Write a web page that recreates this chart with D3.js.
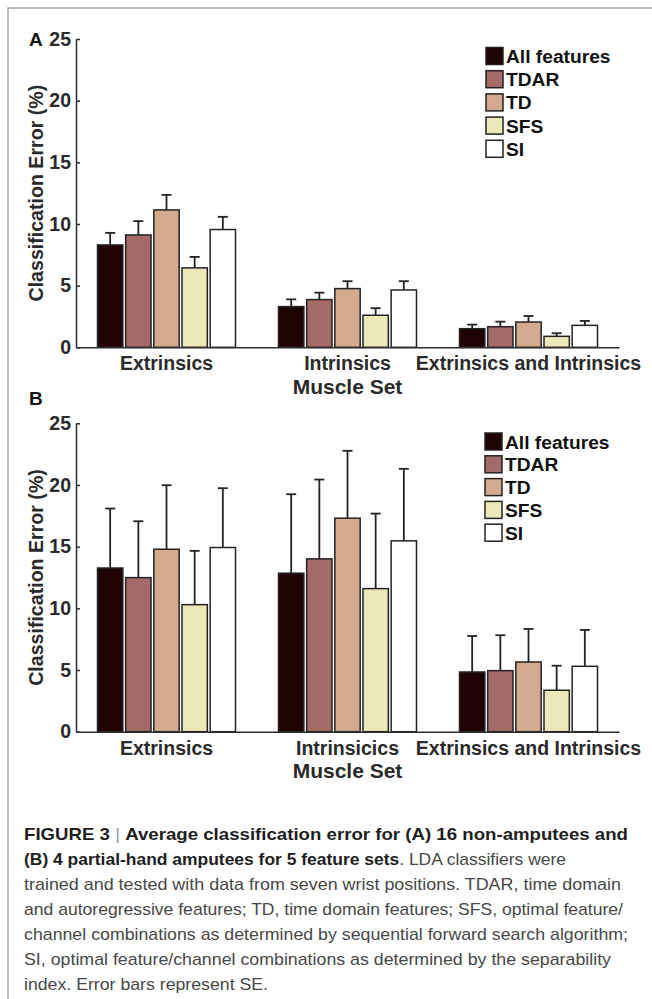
<!DOCTYPE html>
<html>
<head>
<meta charset="utf-8">
<script src="https://cdn.jsdelivr.net/npm/d3@7"></script>
<style>
  html, body { margin: 0; padding: 0; background: #fff; }
  svg { display: block; font-family: "Liberation Sans", Arial, Helvetica, sans-serif; }
</style>
</head>
<body>
<svg id="fig" width="652" height="999"></svg>
<script>
// Feature sets and their fill colours
const featureSets = ["All features", "TDAR", "TD", "SFS", "SI"];
const featureColors = ["#1f0204", "#a46a68", "#d4aa8e", "#ebe9b9", "#ffffff"];

// Muscle-set categories (panel B keeps its own spelling)
const groupsA = ["Extrinsics", "Intrinsics", "Extrinsics and Intrinsics"];
const groupsB = ["Extrinsics", "Intrinsicics", "Extrinsics and Intrinsics"];

const yTicks = [0, 5, 10, 15, 20, 25];

// Panel A: 16 non-amputees, mean classification error (%) and SE, one row per muscle set
const meanA = [
  [8.30, 9.11, 11.14, 6.44, 9.55],
  [3.30, 3.87, 4.76, 2.60, 4.65],
  [1.51, 1.67, 2.05, 0.89, 1.78]
];
const seA = [
  [0.98, 1.12, 1.22, 0.89, 1.03],
  [0.59, 0.56, 0.60, 0.57, 0.71],
  [0.33, 0.41, 0.49, 0.25, 0.36]
];

// Panel B: 4 partial-hand amputees
const meanB = [
  [13.27, 12.49, 14.79, 10.30, 14.93],
  [12.85, 14.01, 17.31, 11.60, 15.47],
  [4.84, 4.95, 5.65, 3.36, 5.30]
];
const seB = [
  [4.82, 4.57, 5.19, 4.36, 4.81],
  [6.40, 6.43, 5.46, 6.08, 5.84],
  [2.92, 2.87, 2.68, 1.99, 2.95]
];

// Caption lines: [text, style] segments
const captionLines = [
  [["FIGURE 3", "b"], [" | ", "sep"], ["Average classification error for (A) 16 non-amputees and", "b"]],
  [["(B) 4 partial-hand amputees for 5 feature sets", "b"], [". LDA classifiers were", "n"]],
  [["trained and tested with data from seven wrist positions. TDAR, time domain", "n"]],
  [["and autoregressive features; TD, time domain features; SFS, optimal feature/", "n"]],
  [["channel combinations as determined by sequential forward search algorithm;", "n"]],
  [["SI, optimal feature/channel combinations as determined by the separability", "n"]],
  [["index. Error bars represent SE.", "n"]]
];
const captionWidths = [604, 542, 597, 599, 604, 587, 244];

const svg = d3.select("#fig");

// outer frame (top and left edges)
svg.append("path")
  .attr("d", "M8,999 V8 H652")
  .attr("fill", "none")
  .attr("stroke", "#a8a8a8")
  .attr("stroke-width", 1.5);

const axisColor = "#2e2e2e";
const xLeft = 76, xRight = 619;

function drawPanel(cfg) {
  const g = svg.append("g");
  const y = d3.scaleLinear().domain([0, 25]).range([cfg.bottom, cfg.top]);
  const x0 = d3.scaleBand().domain(cfg.groups).range([xLeft, xRight]);
  const x1 = d3.scaleBand().domain(featureSets).range([-69, 69]).paddingInner(0.1);
  const color = d3.scaleOrdinal().domain(featureSets).range(featureColors);

  // bars
  const flat = cfg.groups.flatMap((grp, gi) => featureSets.map((fs, fi) => ({
    grp, fs, mean: cfg.mean[gi][fi], se: cfg.se[gi][fi]
  })));

  g.append("g").selectAll("rect").data(flat).join("rect")
    .attr("x", d => x0(d.grp) + x0.bandwidth() / 2 + x1(d.fs))
    .attr("y", d => y(d.mean))
    .attr("width", x1.bandwidth())
    .attr("height", d => y(0) - y(d.mean))
    .attr("fill", d => color(d.fs))
    .attr("stroke", "#232323")
    .attr("stroke-width", 1.5);

  // upper error bars (mean + SE)
  const eb = g.append("g").attr("stroke", "#232323").attr("stroke-width", 1.8).attr("fill", "none");
  const cx = d => x0(d.grp) + x0.bandwidth() / 2 + x1(d.fs) + x1.bandwidth() / 2;
  eb.selectAll("line.v").data(flat).join("line").attr("class", "v")
    .attr("x1", cx).attr("x2", cx)
    .attr("y1", d => y(d.mean)).attr("y2", d => y(d.mean + d.se));
  eb.selectAll("line.c").data(flat).join("line").attr("class", "c")
    .attr("x1", d => cx(d) - 5).attr("x2", d => cx(d) + 5)
    .attr("y1", d => y(d.mean + d.se)).attr("y2", d => y(d.mean + d.se));

  // y axis
  const yAxis = g.append("g")
    .attr("transform", `translate(${xLeft},0)`)
    .call(d3.axisLeft(y).tickValues(yTicks).tickSizeInner(-4).tickSizeOuter(0).tickPadding(5));
  yAxis.select(".domain").attr("stroke", axisColor).attr("stroke-width", 1.5);
  yAxis.selectAll(".tick line").attr("stroke", axisColor).attr("stroke-width", 1.5);
  yAxis.selectAll(".tick text")
    .attr("fill", "#2a2a2a")
    .style("font-size", "19.5px")
    .style("font-weight", "bold")
    .style("font-family", "'Liberation Sans', Arial, sans-serif");

  // x axis with category labels
  const xAxis = g.append("g")
    .attr("transform", `translate(0,${cfg.bottom})`)
    .call(d3.axisBottom(x0).tickSize(0).tickPadding(9).tickSizeOuter(0));
  xAxis.select(".domain").attr("stroke", axisColor).attr("stroke-width", 1.5);
  xAxis.selectAll(".tick text")
    .attr("fill", "#2a2a2a")
    .style("font-size", "19.5px")
    .style("font-weight", "bold")
    .style("font-family", "'Liberation Sans', Arial, sans-serif");

  // x axis title
  g.append("text")
    .attr("x", x0(cfg.groups[1]) + x0.bandwidth() / 2)
    .attr("y", cfg.bottom + 46.5)
    .attr("text-anchor", "middle")
    .attr("fill", "#2a2a2a")
    .style("font-size", "21px")
    .style("font-weight", "bold")
    .text("Muscle Set");

  // y axis title
  g.append("text")
    .attr("transform", `translate(43,${(cfg.top + cfg.bottom) / 2}) rotate(-90)`)
    .attr("text-anchor", "middle")
    .attr("fill", "#2a2a2a")
    .style("font-size", "19.6px")
    .style("font-weight", "bold")
    .text("Classification Error (%)");

  // panel letter
  g.append("text")
    .attr("x", 29)
    .attr("y", cfg.letterY)
    .attr("fill", "#111")
    .style("font-size", "19px")
    .style("font-weight", "bold")
    .text(cfg.letter);

  // legend
  const lg = g.append("g").attr("transform", `translate(${cfg.legendX},${cfg.legendY})`);
  const item = lg.selectAll("g").data(featureSets).join("g")
    .attr("transform", (d, i) => `translate(0,${i * cfg.legendStep})`);
  item.append("rect")
    .attr("width", 17).attr("height", 17)
    .attr("fill", d => color(d))
    .attr("stroke", "#232323").attr("stroke-width", 1.5);
  item.append("text")
    .attr("x", 20).attr("y", 15.5)
    .attr("fill", "#111")
    .style("font-size", "19.2px")
    .style("font-weight", "bold")
    .text(d => d);
}

drawPanel({
  groups: groupsA, mean: meanA, se: seA,
  top: 39, bottom: 347.3, letter: "A", letterY: 46,
  legendX: 486, legendY: 47.5, legendStep: 23.2
});
drawPanel({
  groups: groupsB, mean: meanB, se: seB,
  top: 423.3, bottom: 731.7, letter: "B", letterY: 405,
  legendX: 485, legendY: 433, legendStep: 22.8
});

// caption
const cap = svg.append("g");
captionLines.forEach((segs, i) => {
  const t = cap.append("text")
    .attr("x", 24)
    .attr("y", 840 + i * 25)
    .style("font-size", "17px")
    .attr("textLength", captionWidths[i])
    .attr("lengthAdjust", "spacingAndGlyphs");
  segs.forEach(([txt, kind]) => {
    t.append("tspan")
      .attr("fill", kind === "b" ? "#1e1e1e" : kind === "sep" ? "#9a9a9a" : "#474747")
      .style("font-weight", kind === "b" ? "bold" : "normal")
      .text(txt);
  });
});
</script>
</body>
</html>
